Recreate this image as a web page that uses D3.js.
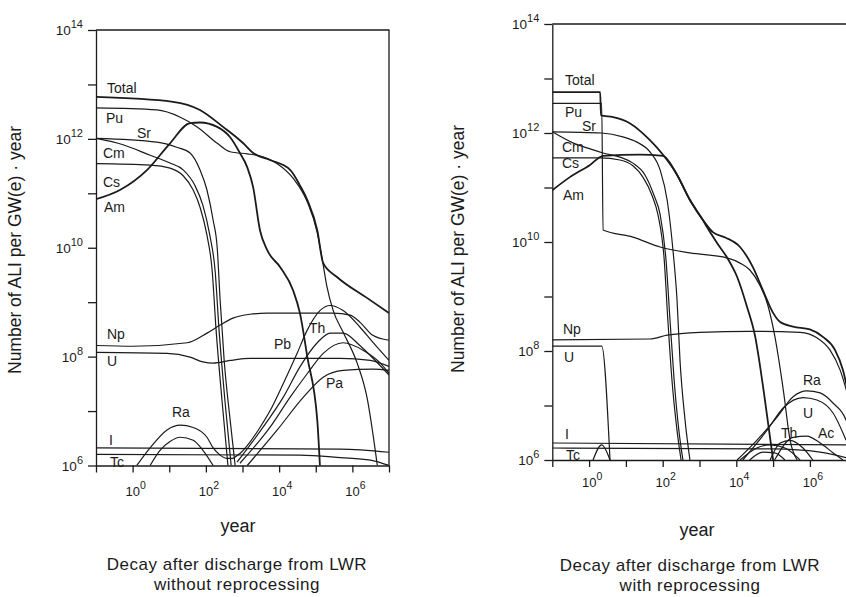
<!DOCTYPE html>
<html>
<head>
<meta charset="utf-8">
<script src="https://cdn.jsdelivr.net/npm/d3@7"></script>
<style>
  body { margin: 0; background: #fff; }
  svg { display: block; font-family: "Liberation Sans", Arial, Helvetica, sans-serif; }
</style>
</head>
<body>
<script>
// ---- data: [year, ALI per GW(e)-year] ----

// left panel: without reprocessing
var leftTotal = [[0.1,5.9e12],[12.7,4.8e12],[69,3.4e12],[295,1.66e12],[1050,8.3e11],[1950,5.5e11],[5600,4.1e11],[2e4,2.7e11],[3.7e4,1.4e11],[5.9e4,7.5e10],[1.1e5,2.1e10],[1.6e5,5.2e9],[3.8e5,2.9e9],[2.5e6,1.2e9],[1e7,6.3e8]];
var leftPu = [[0.1,3.7e12],[4.6,3.4e12],[20,2.5e12],[58,1.66e12],[204,8.3e11],[460,5.8e11],[1350,5.3e11],[2500,5e11],[8900,3.5e11],[2.4e4,1.9e11],[5.9e4,6.9e10],[1.1e5,1.9e10],[1.6e5,4.8e9],[2e5,2e9],[3e5,7e8],[5.6e5,2.8e8],[1.35e6,7.6e7],[2.5e6,1.8e7],[4.8e6,1e6]];
var leftAm = [[0.1,7.8e10],[0.45,1.15e11],[2.5,2.7e11],[10.5,8.3e11],[37,1.95e12],[69,2.0e12],[204,1.66e12],[460,1.07e12],[850,5.5e11],[1350,3e11],[1950,1.3e11],[3000,2.1e10],[4700,9.1e9],[1.07e4,4.4e9],[2.4e4,1.66e9],[3.7e4,6.3e8],[5.9e4,9.8e7],[1.1e5,6.8e6],[1.3e5,1e6]];
var leftSr = [[0.1,1.02e12],[4.6,8.7e11],[16,7e11],[37,5.5e11],[69,2.7e11],[107,1.15e11],[158,3.2e10],[204,1e10],[245,1.1e9],[316,8.5e7],[460,6.8e6],[630,1e6]];
var leftCs = [[0.1,3.5e11],[3,3.3e11],[10.5,2.9e11],[24,2.1e11],[45,1.15e11],[69,5.6e10],[107,1.7e10],[148,3.9e9],[190,3.1e8],[275,1.6e7],[400,1e6]];
var leftCm = [[0.1,1.02e12],[0.55,7.8e11],[3,5e11],[10.5,3.6e11],[24,2.7e11],[50,1.4e11],[83,6e10],[128,1.7e10],[178,3.9e9],[229,3.1e8],[330,1.6e7],[490,1e6]];
var leftNp = [[0.1,1.6e8],[1,1.55e8],[31,1.8e8],[107,2.7e8],[245,3.8e8],[550,5.1e8],[1600,6e8],[4700,6.3e8],[3e5,6.3e8],[8.7e5,5.8e8],[1.6e6,4.3e8],[3.5e6,2.5e8],[1e7,2e8]];
var leftU = [[0.1,1.2e8],[8.7,1.15e8],[37,9.8e7],[83,8e7],[158,7.6e7],[460,8.5e7],[1600,9.3e7],[4.7e5,9.3e7],[3.1e6,8.5e7],[1e7,6.6e7]];
var leftI = [[0.1,2.1e6],[4.7e5,2.0e6],[1e7,1.75e6]];
var leftTc = [[0.1,1.6e6],[3.7e4,1.55e6],[4.7e5,1.4e6],[3.1e6,1.26e6],[1e7,1e6]];
var leftRa = [[1.3,1e6],[3,2.1e6],[8.7,4.5e6],[20,5.5e6],[45,5e6],[107,3.3e6],[158,2.1e6],[245,1.55e6],[380,1.35e6],[550,1.35e6]];
var leftRaInner = [[3,1e6],[5.6,1.9e6],[10.5,2.75e6],[20,3.3e6],[45,2.9e6],[83,1.9e6],[158,1e6]];
var leftPb = [[550,1.35e6],[850,1.66e6],[1600,2.7e6],[3000,5e6],[5600,1e7],[1.3e4,3.2e7],[3.1e4,1.15e8],[5.9e4,3.1e8],[1.3e5,7e8],[2.5e5,8.7e8],[5.6e5,7e8],[1.6e6,3.5e8],[3.7e6,1.8e8],[1e7,8.5e7]];
var leftTh = [[710,1.15e6],[3600,5e6],[1.3e4,1.8e7],[3.7e4,6.5e7],[1.1e5,1.8e8],[2.5e5,2.7e8],[5.6e5,2.7e8],[1.6e6,1.6e8],[4.2e6,8.5e7],[1e7,4.6e7]];
var leftRaLate = [[850,1.1e6],[5600,5e6],[2e4,1.8e7],[5.9e4,4.9e7],[1.6e5,1.15e8],[5.6e5,1.8e8],[2e6,1.3e8],[5.8e6,7.6e7],[1e7,4.9e7]];
var leftPa = [[1350,1e6],[8900,4.5e6],[4.6e4,1.8e7],[1.6e5,4.2e7],[5.6e5,5.6e7],[3.7e6,5.9e7],[1e7,5.6e7]];

// right panel: with reprocessing
var rightTotal = [[0.1,5.6e12],[2.0,5.6e12],[2.1,2.1e12],[4.5,1.95e12],[13,1.5e12],[45,7.4e11],[102,4e11],[230,1.85e11],[550,5.9e10],[1250,2.5e10],[2350,1.5e10],[5200,1.2e10],[1.26e4,8.1e9],[2.8e4,3.5e9],[5.3e4,1.3e9],[1e5,5e8],[1.55e5,3.4e8],[3.5e5,2.8e8],[1e6,2.5e8],[2.3e6,1.8e8],[4.8e6,1.05e8],[7.9e6,4.5e7],[1.2e7,1.26e7]];
var rightPu = [[0.1,3.5e12],[2.2,3.5e12],[2.4,1.66e10],[15.5,1.23e10],[85,8.1e9],[550,6.3e9],[5600,5.1e9],[1.26e4,4.1e9],[2.3e4,3.1e9],[4.4e4,1.6e9],[7.2e4,6.9e8],[1.1e5,1.95e8],[1.9e5,1.9e7],[2.9e5,2.3e6],[4.5e5,1e6]];
var rightAm = [[0.1,8.9e10],[0.3,1.55e11],[1.06,2.6e11],[2.4,3.8e11],[24,4e11],[102,3.8e11],[230,1.85e11],[550,5.9e10],[1250,2.5e10],[1580,1.9e10],[3000,9.6e9],[5600,5.2e9],[1.05e4,2.3e9],[1.95e4,6.5e8],[3.2e4,1.95e8],[6e4,1.26e7],[1e5,1e6]];
var rightSr = [[0.1,1.05e12],[2.2,1e12],[8.3,8.5e11],[20,6.8e11],[45,4.5e11],[85,2.1e11],[132,5.9e10],[190,7.1e9],[245,8.7e8],[295,6.8e7],[405,5.4e6],[550,1e6]];
var rightCs = [[0.1,3.5e11],[2.0,3.5e11],[6.9,3.2e11],[15.5,2.5e11],[29,1.55e11],[51,7.2e10],[74,3.2e10],[110,4.7e9],[138,3.7e8],[178,3e7],[245,3.5e6],[316,1e6]];
var rightCm = [[0.1,1.05e12],[0.36,6.6e11],[1.06,5.1e11],[2.4,4.3e11],[6.9,3.6e11],[15.5,2.8e11],[33,1.7e11],[58,7.2e10],[85,3.2e10],[123,4.7e9],[158,3.7e8],[204,3e7],[275,3.5e6],[355,1e6]];
var rightNp = [[0.1,1.6e8],[45,1.66e8],[132,1.95e8],[1020,2.2e8],[2.3e4,2.3e8],[5.4e5,2.2e8],[1.55e6,1.75e8],[3.5e6,1.05e8],[6.6e6,4.5e7],[1.07e7,1.55e7]];
var rightUEarly = [[0.1,1.23e8],[2.2,1.23e8],[3.7,1e6]];
var rightBump = [[1.28,1e6],[2.2,1.9e6],[3.7,1e6]];
var rightI = [[0.1,2.05e6],[1e7,1.9e6]];
var rightTc = [[0.1,1.66e6],[1e5,1.6e6],[1.9e6,1.4e6],[1e7,1.1e6]];
var rightRa = [[1.05e4,1e6],[3.6e4,2.3e6],[1.3e5,6.2e6],[3.5e5,1.45e7],[8.3e5,1.85e7],[1.9e6,1.7e7],[4.3e6,1.1e7],[9.6e6,5.4e6],[1.4e7,2.3e6]];
var rightULate = [[1.5e4,1e6],[6.8e4,3.5e6],[1.9e5,9.1e6],[6.5e5,1.4e7],[1.55e6,1.26e7],[4.3e6,7.2e6],[9.6e6,2.3e6]];
var rightTh = [[8.3e4,1e6],[1.55e5,2.05e6],[2.9e5,2.3e6],[6.5e5,1.66e6],[1.2e6,1e6]];
var rightAc = [[1.1e5,1e6],[3.5e5,2.6e6],[8.3e5,2.75e6],[1.9e6,2.05e6],[4.3e6,1.35e6],[7.9e6,1e6]];
var rightArcA = [[1.26e4,1e6],[3.6e4,1.66e6],[8.1e4,1.9e6],[2.1e5,1.66e6],[5.4e5,1e6]];
var rightArcB = [[2.3e4,1e6],[5.3e4,1.4e6],[1.1e5,1.35e6],[2.1e5,1e6]];

// ticks
var yearTicks = [1e-1, 1e0, 1e1, 1e2, 1e3, 1e4, 1e5, 1e6, 1e7];
var yearLabelExps = [0, 2, 4, 6];
var valueTicks = [1e6, 1e7, 1e8, 1e9, 1e10, 1e11, 1e12, 1e13, 1e14];
var valueLabelExps = [6, 8, 10, 12, 14];

// text
var yTitle = "Number of ALI per GW(e) \u00b7 year";
var xTitle = "year";
var leftCaption = ["Decay after discharge from LWR", "without reprocessing"];
var rightCaption = ["Decay after discharge from LWR", "with reprocessing"];

// ---- layout ----
var W = 846, H = 597;

var panels = [
  {
    box: {x0: 96, x1: 389, y0: 30, y1: 465.5},
    series: [leftTotal, leftPu, leftAm, leftSr, leftCs, leftCm, leftNp, leftU, leftI, leftTc,
             leftRa, leftRaInner, leftPb, leftTh, leftRaLate, leftPa],
    heavy: [leftTotal, leftAm],
    labels: [["Total",107,93],["Pu",106,123],["Sr",137,138],["Cm",103,158],["Cs",103,187],["Am",104,212],
             ["Np",107,339],["U",107,366],["Ra",172,417],["I",109,445],["Tc",110,467],
             ["Pb",274,349],["Th",309,333],["Pa",326,388]],
    yTitle: {x: 21, y: 250},
    xTitle: {x: 238, y: 532},
    caption: leftCaption, capX: 237, capY: [570, 589.5],
    xLabDy: 30
  },
  {
    box: {x0: 552.3, x1: 846.7, y0: 24, y1: 460},
    series: [rightTotal, rightPu, rightAm, rightSr, rightCs, rightCm, rightNp, rightUEarly, rightBump,
             rightI, rightTc, rightRa, rightULate, rightTh, rightAc, rightArcA, rightArcB],
    heavy: [rightTotal, rightAm],
    labels: [["Total",565,85],["Pu",565,117],["Sr",582,131],["Cm",562,152],["Cs",562,168],["Am",563,200],
             ["Np",563,334],["U",564,362],["I",565,439],["Tc",566,460],
             ["Ra",803,385],["U",803,418],["Th",781,438],["Ac",818,438]],
    yTitle: {x: 464, y: 249},
    xTitle: {x: 697, y: 536},
    caption: rightCaption, capX: 690, capY: [571, 590.5],
    xLabDy: 27
  }
];

var svg = d3.select("body").append("svg")
    .attr("width", W)
    .attr("height", H);

svg.append("rect").attr("width", W).attr("height", H).style("fill", "#fff");

var ink = "#1b1b1b";

panels.forEach(function(p, i) {
  var b = p.box;

  var x = d3.scaleLog().domain([1e-1, 1e7]).range([b.x0, b.x1]);
  var y = d3.scaleLog().domain([1e6, 1e14]).range([b.y1, b.y0]);

  var line = d3.line()
      .curve(d3.curveMonotoneX)
      .x(function(d) { return x(d[0]); })
      .y(function(d) { return y(d[1]); });

  // clip to plot area
  svg.append("clipPath")
      .attr("id", "clip" + i)
    .append("rect")
      .attr("x", b.x0)
      .attr("y", b.y0)
      .attr("width", b.x1 - b.x0)
      .attr("height", b.y1 - b.y0 + 0.5);

  // curve labels (drawn first so the axis sits over "Tc")
  svg.append("g").selectAll("text")
      .data(p.labels)
      .enter().append("text")
      .attr("x", function(d) { return d[1]; })
      .attr("y", function(d) { return d[2]; })
      .attr("font-size", 14)
      .style("fill", ink)
      .text(function(d) { return d[0]; });

  // curves
  svg.append("g")
      .attr("clip-path", "url(#clip" + i + ")")
    .selectAll("path")
      .data(p.series)
      .enter().append("path")
      .style("fill", "none")
      .style("stroke", ink)
      .style("stroke-width", function(d) { return p.heavy.indexOf(d) >= 0 ? 1.8 : 1.2; })
      .attr("d", line);

  // frame: top and right edges
  svg.append("path")
      .attr("d", "M" + x(1e-1) + "," + y(1e14) + "H" + x(1e7) + "V" + y(1e6))
      .style("fill", "none")
      .style("stroke", ink)
      .style("stroke-width", 1.3);

  // x axis
  var gx = svg.append("g")
      .attr("transform", "translate(0," + y(1e6) + ")")
      .call(d3.axisBottom(x).tickValues(yearTicks).tickFormat("").tickSizeInner(7).tickSizeOuter(0));

  // y axis
  var gy = svg.append("g")
      .attr("transform", "translate(" + x(1e-1) + ",0)")
      .call(d3.axisLeft(y).tickValues(valueTicks).tickFormat("").tickSizeInner(8).tickSizeOuter(0));

  [gx, gy].forEach(function(g) {
    g.selectAll("path, line").style("stroke", ink).style("stroke-width", 1.3);
  });

  // y tick labels 10^n
  var yl = svg.append("g").selectAll("text")
      .data(valueLabelExps)
      .enter().append("text")
      .attr("x", x(1e-1) - 13)
      .attr("y", function(d) { return y(Math.pow(10, d)) + 5; })
      .attr("text-anchor", "end")
      .attr("font-size", 13.5)
      .style("fill", ink);
  yl.append("tspan").text("10");
  yl.append("tspan").attr("dy", -7).attr("font-size", 11).text(function(d) { return d; });

  // x tick labels 10^n
  var xl = svg.append("g").selectAll("text")
      .data(yearLabelExps)
      .enter().append("text")
      .attr("x", function(d) { return x(Math.pow(10, d)) + 3; })
      .attr("y", y(1e6) + p.xLabDy)
      .attr("text-anchor", "middle")
      .attr("font-size", 13)
      .style("fill", ink);
  xl.append("tspan").text("10");
  xl.append("tspan").attr("dy", -7).attr("font-size", 10.5).text(function(d) { return d; });

  // axis titles
  svg.append("text")
      .attr("transform", "translate(" + p.yTitle.x + "," + p.yTitle.y + ") rotate(-90)")
      .attr("text-anchor", "middle")
      .attr("font-size", 17.5)
      .style("fill", ink)
      .text(yTitle);

  svg.append("text")
      .attr("x", p.xTitle.x)
      .attr("y", p.xTitle.y)
      .attr("text-anchor", "middle")
      .attr("font-size", 18)
      .style("fill", ink)
      .text(xTitle);

  // caption, two lines
  p.caption.forEach(function(t, k) {
    svg.append("text")
        .attr("x", p.capX)
        .attr("y", p.capY[k])
        .attr("text-anchor", "middle")
        .attr("font-size", 17)
        .attr("letter-spacing", 0.5)
        .style("fill", ink)
        .text(t);
  });
});
</script>
</body>
</html>
